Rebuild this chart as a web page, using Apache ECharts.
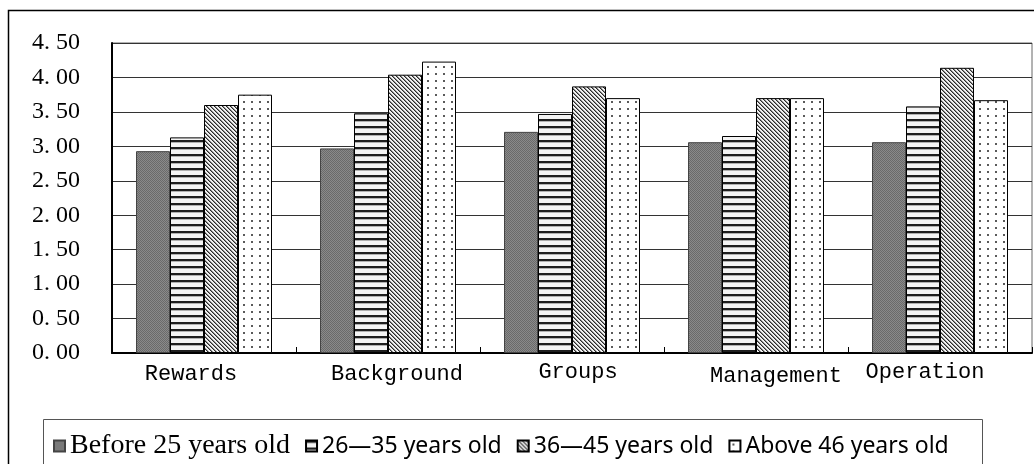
<!DOCTYPE html>
<html>
<head>
<meta charset="utf-8">
<style>
  html, body { margin: 0; padding: 0; background: #fff; }
  #myChart { width: 1034px; height: 464px; }
</style>
<script src="https://cdn.jsdelivr.net/npm/echarts@6/dist/echarts.min.js"></script>
</head>
<body>
<div id="myChart"></div>
<script>
// data
const categories = ['Rewards', 'Background', 'Groups', 'Management', 'Operation']
const seriesNames = ['Before 25 years old', '26—35 years old', '36—45 years old', 'Above 46 years old']
const before25 = [2.93, 2.97, 3.21, 3.06, 3.06]
const age26to35 = [3.13, 3.48, 3.47, 3.15, 3.58]
const age36to45 = [3.60, 4.04, 3.87, 3.70, 4.14]
const above46 = [3.75, 4.23, 3.70, 3.70, 3.67]
const yTicks = ['0. 00', '0. 50', '1. 00', '1. 50', '2. 00', '2. 50', '3. 00', '3. 50', '4. 00', '4. 50']

// label nudges (the original labels are not quite centred): [top, right, bottom, left]
const labelPad = [[2, 26, 0, 0], [2, 0, 0, 18], [0, 0, 0, 12], [4, 0, 0, 40], [0, 30, 0, 0]]

// small canvas fills that imitate the office-style hatch patterns
function makePattern(kind) {
  const c = document.createElement('canvas')
  let ctx
  if (kind === 'dither') {
    c.width = 2; c.height = 2
    ctx = c.getContext('2d')
    ctx.fillStyle = '#8a8a8a'; ctx.fillRect(0, 0, 2, 2)
    ctx.fillStyle = '#6a6a6a'; ctx.fillRect(0, 0, 1, 1); ctx.fillRect(1, 1, 1, 1)
  } else if (kind === 'hlines') {
    c.width = 4; c.height = 7
    ctx = c.getContext('2d')
    ctx.fillStyle = '#f4f4f4'; ctx.fillRect(0, 0, 4, 7)
    ctx.fillStyle = '#1e1e1e'; ctx.fillRect(0, 0, 4, 2)
    ctx.fillStyle = '#b0b0b0'; ctx.fillRect(0, 2, 4, 1)
  } else if (kind === 'diag') {
    c.width = 4; c.height = 4
    ctx = c.getContext('2d')
    ctx.fillStyle = '#f2f2f2'; ctx.fillRect(0, 0, 4, 4)
    for (let i = 0; i < 4; i++) {
      ctx.fillStyle = '#2a2a2a'; ctx.fillRect(i, i, 1, 1)
      ctx.fillStyle = '#8c8c8c'; ctx.fillRect((i + 1) % 4, i, 1, 1)
    }
  } else {
    c.width = 8; c.height = 7
    ctx = c.getContext('2d')
    ctx.fillStyle = '#ffffff'; ctx.fillRect(0, 0, 8, 7)
    ctx.fillStyle = '#5a5a5a'; ctx.fillRect(3, 3, 2, 2)
  }
  return { image: c, repeat: 'repeat' }
}

const fills = [makePattern('dither'), makePattern('hlines'), makePattern('diag'), makePattern('dots')]
const seriesData = [before25, age26to35, age36to45, above46]

let myChart = echarts.init(document.getElementById('myChart'))
myChart.setOption({
  animation: false,
  graphic: [
    {
      type: 'rect',
      shape: { x: 8.5, y: 10.5, width: 1040, height: 470 },
      style: { fill: 'none', stroke: '#000', lineWidth: 1.5 },
      silent: true
    },
    {
      type: 'rect',
      shape: { x: 43.5, y: 419.5, width: 939, height: 60 },
      style: { fill: 'none', stroke: '#555', lineWidth: 1 },
      silent: true
    }
  ],
  legend: {
    data: seriesNames,
    left: 48,
    top: 427,
    itemWidth: 11,
    itemHeight: 11,
    itemGap: 15,
    icon: 'rect',
    formatter: name => (name === seriesNames[0] ? '{s|' + name + '}' : '{c|' + name + '}'),
    textStyle: {
      color: '#000',
      rich: {
        s: { fontFamily: 'Liberation Serif', fontSize: 28, color: '#000' },
        c: { fontFamily: 'Noto Sans', fontSize: 23, color: '#000' }
      }
    }
  },
  grid: {
    left: 112,
    right: 2,
    top: 43,
    bottom: 111,
    show: true,
    borderColor: '#666',
    borderWidth: 1
  },
  xAxis: {
    type: 'category',
    data: categories.map((c, i) => ({ value: c, textStyle: { padding: labelPad[i] } })),
    axisLine: { lineStyle: { color: '#000', width: 2 } },
    axisTick: { show: true, inside: true, length: 6, lineStyle: { color: '#000' } },
    axisLabel: {
      margin: 8,
      color: '#000',
      fontFamily: 'Liberation Mono',
      fontSize: 22
    }
  },
  yAxis: {
    type: 'value',
    min: 0,
    max: 4.5,
    interval: 0.5,
    axisLine: { show: true, lineStyle: { color: '#000', width: 2 } },
    axisTick: { show: false },
    splitLine: { show: true, lineStyle: { color: '#333', width: 1 } },
    axisLabel: {
      margin: 32,
      color: '#000',
      fontFamily: 'Liberation Serif',
      fontSize: 24,
      formatter: v => yTicks[Math.round(v / 0.5)]
    }
  },
  series: seriesNames.map((name, i) => ({
    name: name,
    type: 'bar',
    data: seriesData[i],
    barWidth: 34,
    barGap: '0%',
    itemStyle: {
      color: fills[i],
      borderColor: i === 0 ? '#444' : '#000',
      borderWidth: 1
    }
  }))
})
</script>
</body>
</html>
